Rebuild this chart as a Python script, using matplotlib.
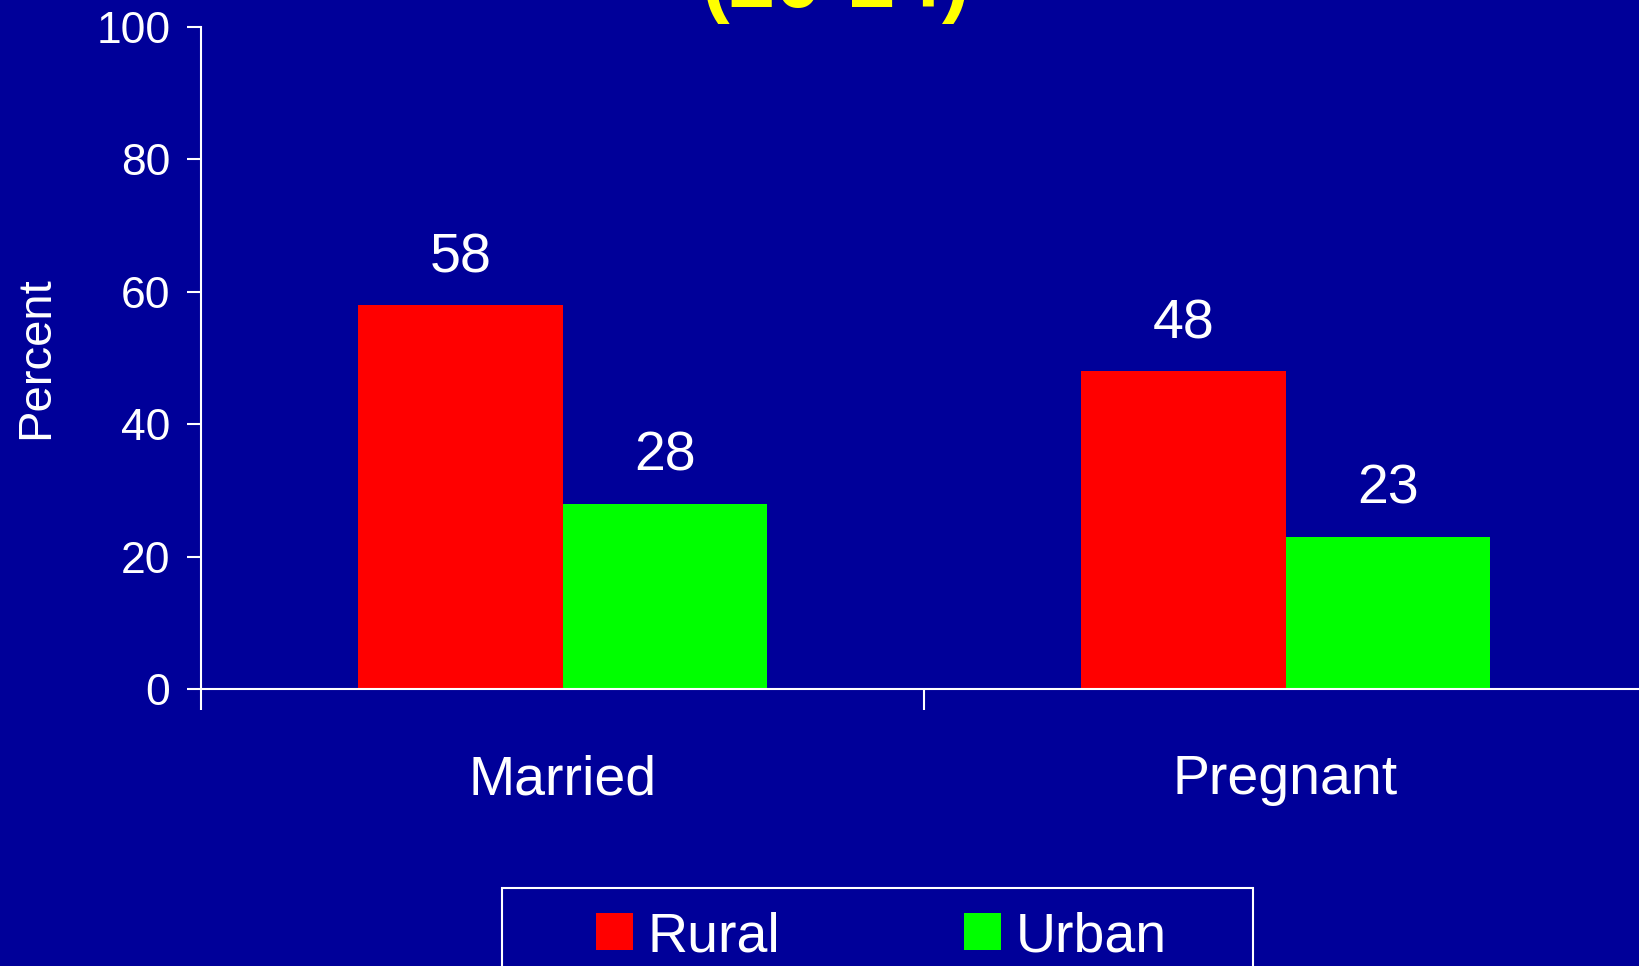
import numpy as np
import matplotlib
matplotlib.use("Agg")
import matplotlib.pyplot as plt
from matplotlib.patches import Rectangle

# data
categories = ["Married", "Pregnant"]
rural = [58, 48]
urban = [28, 23]
series_names = ["Rural", "Urban"]
title_text = "(20-24)"

bg = "#000099"
plt.rcParams['font.family'] = ['Liberation Sans', 'DejaVu Sans']

fig = plt.figure(figsize=(16.4, 9.66), dpi=100, facecolor=bg)
ax = fig.add_axes([201/1640, 1 - 689/966, 1446/1640, 662/966])
ax.set_facecolor(bg)

x = np.arange(len(categories))
w = 0.283
b1 = ax.bar(x - w/2, rural, w, color="#FF0000", label=series_names[0])
b2 = ax.bar(x + w/2, urban, w, color="#00FF00", label=series_names[1])

for bars in (b1, b2):
    ax.bar_label(bars, fmt="%d", padding=15, color="white", fontsize=40)

ax.set_xlim(-0.5, 1.5)
ax.set_ylim(0, 100)
ax.set_yticks([0, 20, 40, 60, 80, 100])

# category labels centred, separator ticks between groups
ax.set_xticks(x)
ax.set_xticklabels(categories)
ax.set_xticks([-0.5, 0.5, 1.5], minor=True)
ax.tick_params(axis="x", which="major", length=0, pad=47, labelsize=40, colors="white")
ax.tick_params(axis="x", which="minor", length=15, width=1.5, color="white")
ax.tick_params(axis="y", length=10, width=1.5, pad=12, labelsize=32, colors="white")

for s in ["top", "right"]:
    ax.spines[s].set_visible(False)
for s in ["left", "bottom"]:
    ax.spines[s].set_color("white")
    ax.spines[s].set_linewidth(1.5)

ax.set_ylabel("Percent", fontsize=34, color="white", va="center")
ax.yaxis.set_label_coords(-(201 - 36.5) / 1446, 0.5)

# title runs off the top of the slide, only the bottom line shows
fig.text(836/1640, 1 - 7/966, title_text, color="#FFFF00", fontsize=60,
         fontweight="bold", ha="center", va="baseline")

# legend
fig.legend(handles=[b1, b2], labels=series_names, loc="center left",
           bbox_to_anchor=(596/1640, 1 - 937/966), ncol=2, frameon=False,
           fontsize=40, labelcolor="white", handlelength=0.67, handleheight=0.67,
           handletextpad=0.26, columnspacing=3.3, borderpad=0, borderaxespad=0)
fig.add_artist(Rectangle((502/1640, -0.1), 751/1640, (966 - 888)/966 + 0.1,
                         transform=fig.transFigure, fill=False,
                         edgecolor="white", linewidth=1.5))

fig.savefig("out.png", dpi=100, facecolor=bg)
